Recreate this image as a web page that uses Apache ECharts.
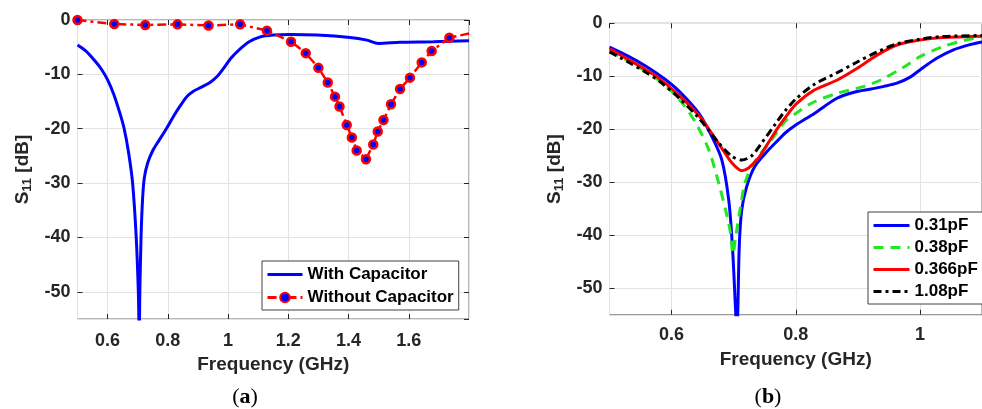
<!DOCTYPE html>
<html><head><meta charset="utf-8">
<script src="https://cdn.jsdelivr.net/npm/echarts@6/dist/echarts.min.js"></script>
<style>html,body{margin:0;padding:0;background:#fff}#c{width:982px;height:409px}</style>
</head><body><div id="c"></div>
<script>
// ---- Panel (a) ----
const aWithFreq = [0.5,0.53,0.559,0.58,0.6,0.62,0.64,0.655,0.67,0.683,0.695,0.702,0.705,0.707,0.711,0.716,0.722,0.733,0.75,0.77,0.795,0.82,0.841,0.865,0.885,0.91,0.94,0.965,0.985,1.01,1.04,1.07,1.107,1.15,1.206,1.295,1.405,1.461,1.499,1.571,1.682,1.8];
const aWithS11  = [-4.6,-5.8,-7.6,-9.1,-11.0,-13.6,-17.0,-20.0,-24.5,-30.0,-40.0,-50.0,-58,-50.0,-40.0,-33.0,-29.0,-26.3,-24.0,-22.2,-20.0,-17.6,-15.8,-14.0,-13.1,-12.4,-11.5,-10.3,-8.9,-7.0,-5.3,-4.0,-3.1,-2.75,-2.65,-2.75,-3.2,-3.7,-4.3,-4.1,-4.0,-3.8];
const aWithoutFreq = [0.5,0.622,0.725,0.832,0.935,1.040,1.129,1.209,1.258,1.300,1.331,1.355,1.370,1.394,1.411,1.427,1.458,1.482,1.497,1.516,1.541,1.571,1.604,1.643,1.676,1.735,1.85];
const aWithoutS11  = [0,-0.74,-0.92,-0.8,-1.0,-0.8,-1.96,-4.0,-6.1,-8.8,-11.5,-14.1,-15.9,-19.3,-21.6,-24.0,-25.6,-22.9,-20.5,-18.4,-15.5,-12.7,-10.6,-7.8,-5.7,-3.25,-1.9];
const aNames = ['With Capacitor','Without Capacitor'];

// ---- Panel (b) ----
const b031Freq = [0.5,0.53,0.56,0.59,0.612,0.644,0.665,0.681,0.692,0.698,0.7035,0.705,0.7065,0.709,0.713,0.721,0.734,0.756,0.772,0.783,0.8,0.83,0.867,0.894,0.921,0.942,0.963,0.985,1.0,1.027,1.054,1.081,1.1];
const b031S11  = [-4.5,-6.2,-8.2,-10.6,-12.8,-17.0,-21.4,-25.8,-33.3,-42.1,-55,-57,-55,-42.1,-35.2,-30.8,-27.0,-23.9,-22.0,-20.7,-19.2,-17.0,-14.1,-13.0,-12.4,-11.9,-11.3,-10.1,-8.8,-6.6,-5.0,-4.0,-3.5];
const b038Freq = [0.5,0.53,0.559,0.58,0.6,0.617,0.639,0.66,0.676,0.687,0.695,0.699,0.703,0.711,0.718,0.729,0.74,0.761,0.783,0.8,0.83,0.867,0.91,0.937,0.975,1.0,1.037,1.074,1.1];
const b038S11  = [-5.2,-7.1,-9.1,-10.8,-12.8,-15.0,-18.8,-23.9,-30.2,-35.2,-39.6,-43.5,-40.5,-34.6,-30.2,-27.0,-25.1,-22.0,-18.5,-17.0,-14.8,-13.2,-11.9,-10.7,-8.2,-6.3,-4.4,-3.15,-2.6];
const b0366Freq = [0.5,0.53,0.559,0.58,0.612,0.644,0.665,0.681,0.697,0.713,0.724,0.74,0.756,0.772,0.783,0.8,0.83,0.867,0.899,0.931,0.963,1.0,1.037,1.1];
const b0366S11  = [-4.8,-6.8,-8.8,-10.4,-13.6,-17.4,-20.8,-23.6,-26.3,-27.8,-27.3,-25.4,-22.5,-19.6,-17.8,-15.3,-12.6,-10.7,-8.5,-6.0,-4.1,-3.15,-2.7,-2.45];
const b108Freq = [0.5,0.53,0.559,0.58,0.612,0.644,0.676,0.697,0.713,0.729,0.745,0.766,0.783,0.8,0.83,0.867,0.899,0.931,0.963,1.0,1.037,1.1];
const b108S11  = [-5.4,-7.3,-9.3,-10.9,-14.1,-17.9,-22.6,-25.1,-25.8,-25.0,-22.6,-19.2,-16.5,-14.3,-11.5,-9.3,-7.3,-5.4,-3.9,-3.0,-2.5,-2.3];
const bNames = ['0.31pF','0.38pF','0.366pF','1.08pF'];

const xTitle = 'Frequency (GHz)';
const captions = ['a','b'];

const zip = (xs, ys) => xs.map((x, i) => [x, ys[i]]);
const FONT = 'Liberation Sans, Arial, sans-serif';
const TXT = '#262626';
const TICK = {show: true, inside: true, length: 5, lineStyle: {color: TXT}};

function xAxis(gi, min, max, split, margin, nameGap) {
  return {
    type: 'value', gridIndex: gi, min: min, max: max, splitNumber: split, position: 'bottom',
    name: xTitle, nameLocation: 'middle', nameGap: nameGap,
    nameTextStyle: {fontFamily: FONT, fontWeight: 'bold', fontSize: 19, color: TXT},
    axisLine: {show: false, onZero: false},
    axisTick: TICK,
    axisLabel: {fontFamily: FONT, fontWeight: 'bold', fontSize: 18, color: TXT, margin: margin, showMinLabel: false, showMaxLabel: false},
    splitLine: {show: true, lineStyle: {color: '#e3e3e3', width: 1}}
  };
}
function xAxisTop(gi, min, max, split) {
  return {
    type: 'value', gridIndex: gi, min: min, max: max, splitNumber: split, position: 'top',
    axisLine: {show: false, onZero: false}, axisTick: TICK, axisLabel: {show: false}, splitLine: {show: false}
  };
}
function yAxis(gi) {
  return {
    type: 'value', gridIndex: gi, min: -55, max: 0, splitNumber: 5, position: 'left',
    name: 'S{sub|11} [dB]', nameLocation: 'middle', nameGap: 44, nameRotate: 90,
    nameTextStyle: {fontFamily: FONT, fontWeight: 'bold', fontSize: 19, color: TXT,
      rich: {sub: {fontFamily: FONT, fontWeight: 'bold', fontSize: 13, color: TXT, verticalAlign: 'bottom', padding: [8,0,0,0]}}},
    axisLine: {show: false, onZero: false},
    axisTick: TICK,
    axisLabel: {fontFamily: FONT, fontWeight: 'bold', fontSize: 18, color: TXT, margin: 7, showMinLabel: false},
    splitLine: {show: true, lineStyle: {color: '#e3e3e3', width: 1}}
  };
}
function yAxisRight(gi) {
  return {
    type: 'value', gridIndex: gi, min: -55, max: 0, splitNumber: 5, position: 'right',
    axisLine: {show: false, onZero: false}, axisTick: TICK, axisLabel: {show: false}, splitLine: {show: false}
  };
}
const legendText = {fontFamily: FONT, fontWeight: 'bold', fontSize: 17, color: '#000', lineHeight: 17};
const lineOnly = (name) => ({name: name, itemStyle: {opacity: 0}});

const chart = echarts.init(document.getElementById('c'), null, {renderer: 'canvas'});
chart.setOption({
  backgroundColor: '#fff',
  animation: false,
  grid: [
    {left: 77.5, top: 20, width: 391.5, height: 299, show: true, borderColor: '#707070', borderWidth: 1, containLabel: false},
    {left: 609.5, top: 23.3, width: 376.5, height: 291.5, show: true, borderColor: '#707070', borderWidth: 1, containLabel: false}
  ],
  xAxis: [xAxis(0, 0.5, 1.8, 6, 13, 36), xAxis(1, 0.5, 1.1, 3, 11, 35), xAxisTop(0, 0.5, 1.8, 6), xAxisTop(1, 0.5, 1.1, 3)],
  yAxis: [yAxis(0), yAxis(1), yAxisRight(0)],
  legend: [
    {data: [lineOnly(aNames[0]), {name: aNames[1]}], orient: 'vertical', left: 262, top: 261, itemWidth: 35, itemHeight: 12, itemGap: 6,
     padding: [5, 5, 4, 4], backgroundColor: '#fff', borderColor: '#404040', borderWidth: 1, borderRadius: 0,
     lineStyle: {width: 3}, textStyle: legendText, selectedMode: false},
    {data: bNames.map(lineOnly), orient: 'vertical', left: 868, top: 212, itemWidth: 36, itemHeight: 12, itemGap: 5,
     padding: [5, 5, 4, 4], backgroundColor: '#fff', borderColor: '#404040', borderWidth: 1, borderRadius: 0,
     lineStyle: {width: 3}, textStyle: legendText, selectedMode: false}
  ],
  series: [
    {name: aNames[0], type: 'line', xAxisIndex: 0, yAxisIndex: 0, data: zip(aWithFreq, aWithS11),
     symbol: 'none', smooth: 0.3, lineStyle: {color: '#0000ff', width: 3}, itemStyle: {color: '#0000ff'}},
    {name: aNames[1], type: 'line', xAxisIndex: 0, yAxisIndex: 0, data: zip(aWithoutFreq, aWithoutS11),
     symbol: 'circle', symbolSize: 8, showSymbol: true,
     lineStyle: {color: '#ff0000', width: 2.5, type: [9, 4, 3, 4]},
     itemStyle: {color: '#0000ff', borderColor: '#ff0000', borderWidth: 2.5}},
    {name: bNames[0], type: 'line', xAxisIndex: 1, yAxisIndex: 1, data: zip(b031Freq, b031S11),
     symbol: 'none', smooth: 0.3, lineStyle: {color: '#0000ff', width: 3}, itemStyle: {color: '#0000ff'}},
    {name: bNames[1], type: 'line', xAxisIndex: 1, yAxisIndex: 1, data: zip(b038Freq, b038S11),
     symbol: 'none', smooth: 0.3, lineStyle: {color: '#22e622', width: 3, type: [10, 7]}, itemStyle: {color: '#22e622'}},
    {name: bNames[2], type: 'line', xAxisIndex: 1, yAxisIndex: 1, data: zip(b0366Freq, b0366S11),
     symbol: 'none', smooth: 0.3, lineStyle: {color: '#ff0000', width: 3}, itemStyle: {color: '#ff0000'}},
    {name: bNames[3], type: 'line', xAxisIndex: 1, yAxisIndex: 1, data: zip(b108Freq, b108S11),
     symbol: 'none', smooth: 0.3, lineStyle: {color: '#000000', width: 3, type: [8, 4, 3, 4]}, itemStyle: {color: '#000000'}}
  ],
  graphic: [
    {type: 'text', x: 245, y: 397, style: {text: '{p|(}{b|' + captions[0] + '}{p|)}', align: 'center', verticalAlign: 'middle',
      rich: {p: {fontFamily: 'Liberation Serif, serif', fontSize: 22, fill: '#000'}, b: {fontFamily: 'Liberation Serif, serif', fontSize: 22, fontWeight: 'bold', fill: '#000'}}}},
    {type: 'text', x: 768, y: 397, style: {text: '{p|(}{b|' + captions[1] + '}{p|)}', align: 'center', verticalAlign: 'middle',
      rich: {p: {fontFamily: 'Liberation Serif, serif', fontSize: 22, fill: '#000'}, b: {fontFamily: 'Liberation Serif, serif', fontSize: 22, fontWeight: 'bold', fill: '#000'}}}}
  ]
});
</script>
</body></html>
